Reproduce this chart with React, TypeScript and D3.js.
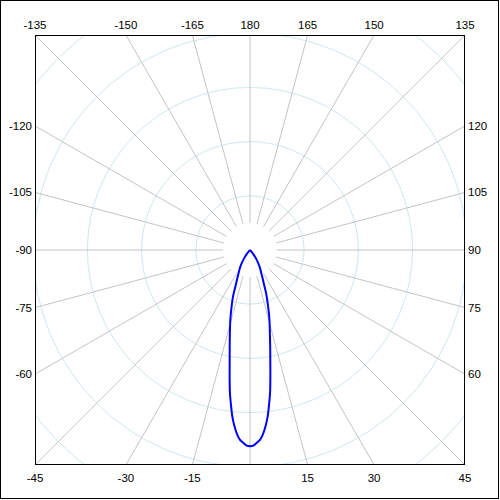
import React from "react";
import * as d3 from "d3";

// Spoke / tick angles (degrees, 0 = down, 90 = right, 180 = up)
const tickAngles = [-165, -150, -135, -120, -105, -90, -75, -60, -45, -30, -15, 0, 15, 30, 45, 60, 75, 90, 105, 120, 135, 150, 165, 180];
const tickLabels = ["-165", "-150", "-135", "-120", "-105", "-90", "-75", "-60", "-45", "-30", "-15", "0", "15", "30", "45", "60", "75", "90", "105", "120", "135", "150", "165", "180"];
const ringValues = [1, 2, 3, 4, 5, 6];

// Pattern data
const seriesAngles = [-45, -40, -35, -30, -25, -22, -20, -18, -16, -14, -12, -10, -9, -8, -7, -6, -5, -4, -3, -2, -1, 0, 1, 2, 3, 4, 5, 6, 7, 8, 9, 10, 12, 14, 16, 18, 20, 22, 25, 30, 35, 40, 45];
const seriesValues = [0, 0.08, 0.2, 0.36, 0.53, 0.71, 0.92, 1.1, 1.31, 1.53, 1.8, 2.16, 2.4, 2.66, 2.88, 3.1, 3.27, 3.41, 3.51, 3.56, 3.61, 3.62, 3.61, 3.56, 3.51, 3.41, 3.27, 3.1, 2.88, 2.66, 2.4, 2.16, 1.79, 1.51, 1.29, 1.07, 0.89, 0.7, 0.52, 0.35, 0.2, 0.08, 0];

const W = 500;
const cx = 250;
const cy = 250;
const half = 215;

export default function App() {
  const r = d3.scaleLinear().domain([0, 5]).range([0, 271]);
  const rad = (deg: number) => (deg * Math.PI) / 180;
  const px = (deg: number, v: number) => cx + r(v) * Math.sin(rad(deg));
  const py = (deg: number, v: number) => cy + r(v) * Math.cos(rad(deg));

  const pts = seriesAngles.map((a, i) => [a, seriesValues[i]] as [number, number]);
  const line = d3
    .line<[number, number]>()
    .x((d) => px(d[0], d[1]))
    .y((d) => py(d[0], d[1]))
    .curve(d3.curveCatmullRom.alpha(0.5));

  const labels = tickAngles.map((a, i) => {
    const s = Math.sin(rad(a));
    const c = Math.cos(rad(a));
    const m = Math.max(Math.abs(s), Math.abs(c));
    const t = half / m;
    const x = cx + t * s;
    const y = cy + t * c;
    const onTB = Math.abs(c) >= Math.abs(s) - 1e-9;
    if (onTB) {
      return { text: tickLabels[i], x, y: c > 0 ? 478 : 25, anchor: "middle" };
    }
    return s < 0
      ? { text: tickLabels[i], x: 32, y, anchor: "end" }
      : { text: tickLabels[i], x: 468, y, anchor: "start" };
  });

  return (
    <svg width={W} height={W} style={{ position: "absolute", left: 0, top: 0 }} fontFamily="Liberation Sans, Arial, sans-serif" fontSize={11.5}>
      <defs>
        <clipPath id="box">
          <rect x={cx - half} y={cy - half} width={half * 2} height={half * 2} />
        </clipPath>
      </defs>
      <rect x={0} y={0} width={W} height={W} fill="#fff" />
      <rect x={0.5} y={0.5} width={498} height={498} fill="none" stroke="#000" />
      <g clipPath="url(#box)">
        {ringValues.map((v) => (
          <circle key={v} cx={cx} cy={cy} r={r(v)} fill="none" stroke="#cfe7ee" strokeWidth={1} />
        ))}
        {tickAngles.map((a) => (
          <line key={a} x1={px(a, 0.5)} y1={py(a, 0.5)} x2={px(a, 7)} y2={py(a, 7)} stroke="#c4c4c4" strokeWidth={1} />
        ))}
        <path d={line(pts) || ""} fill="none" stroke="#0000ff" strokeWidth={2} strokeLinejoin="miter" />
      </g>
      <rect x={cx - half + 0.5} y={cy - half + 0.5} width={half * 2 - 1} height={half * 2 - 1} fill="none" stroke="#000" />
      {labels
        .filter((l) => l.text !== "0")
        .map((l) => (
          <text key={l.text} x={l.x} y={l.y} textAnchor={l.anchor as any} dominantBaseline="central" fill="#000">
            {l.text}
          </text>
        ))}
    </svg>
  );
}
